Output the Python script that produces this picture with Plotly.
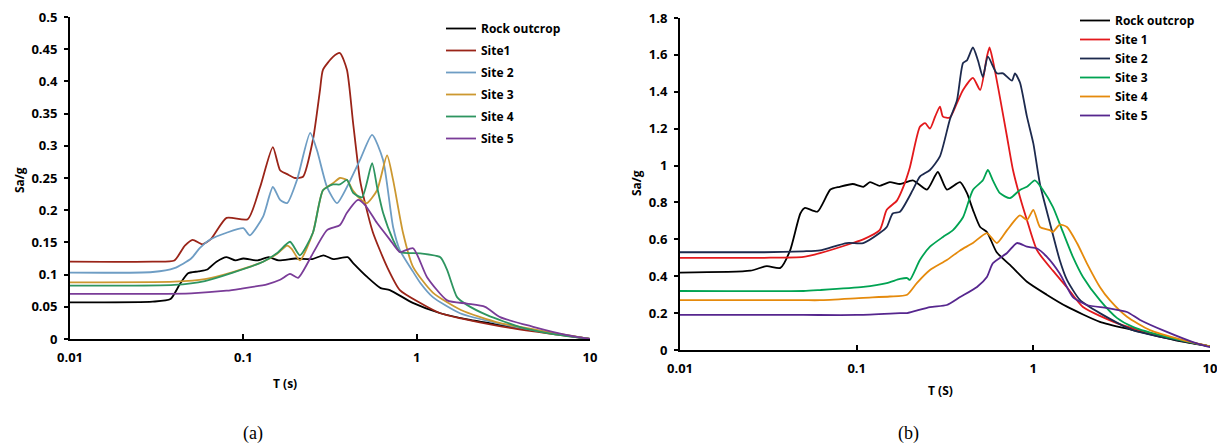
import plotly.graph_objects as go

# ---------------- Chart (a) data ----------------
a_rock_T = [0.01, 0.03, 0.038, 0.043, 0.048, 0.055, 0.062, 0.07, 0.08, 0.09, 0.1, 0.12, 0.14, 0.16, 0.2, 0.25, 0.29, 0.33, 0.4, 0.43, 0.52, 0.62, 0.7, 0.95, 1.37, 2.0, 3.0, 6.0, 10]
a_rock_Sa = [0.057, 0.058, 0.062, 0.085, 0.102, 0.105, 0.108, 0.12, 0.127, 0.122, 0.125, 0.122, 0.127, 0.122, 0.125, 0.124, 0.13, 0.124, 0.127, 0.118, 0.096, 0.079, 0.076, 0.056, 0.04, 0.03, 0.022, 0.009, 0.0]

a_site1_T = [0.01, 0.03, 0.04, 0.046, 0.051, 0.058, 0.065, 0.08, 0.106, 0.125, 0.148, 0.163, 0.179, 0.199, 0.221, 0.252, 0.277, 0.288, 0.329, 0.361, 0.396, 0.43, 0.471, 0.504, 0.56, 0.675, 0.8, 1.05, 1.37, 1.8, 3.0, 6.0, 10]
a_site1_Sa = [0.12, 0.12, 0.122, 0.145, 0.154, 0.147, 0.155, 0.188, 0.186, 0.236, 0.298, 0.262, 0.256, 0.25, 0.252, 0.309, 0.387, 0.418, 0.438, 0.444, 0.418, 0.335, 0.247, 0.211, 0.165, 0.112, 0.076, 0.056, 0.04, 0.032, 0.02, 0.008, 0.0]

a_site2_T = [0.01, 0.03, 0.04, 0.05, 0.056, 0.064, 0.08, 0.1, 0.109, 0.13, 0.148, 0.163, 0.179, 0.204, 0.243, 0.266, 0.304, 0.347, 0.396, 0.471, 0.553, 0.64, 0.731, 0.8, 0.95, 1.05, 1.24, 1.78, 3.0, 6.0, 10]
a_site2_Sa = [0.103, 0.104, 0.11, 0.125, 0.141, 0.154, 0.165, 0.172, 0.161, 0.19, 0.236, 0.216, 0.211, 0.247, 0.32, 0.293, 0.236, 0.211, 0.236, 0.278, 0.317, 0.278, 0.174, 0.138, 0.105, 0.087, 0.065, 0.04, 0.024, 0.009, 0.0]

a_site3_T = [0.01, 0.04, 0.06, 0.087, 0.13, 0.156, 0.179, 0.19, 0.212, 0.252, 0.288, 0.329, 0.361, 0.396, 0.43, 0.484, 0.517, 0.591, 0.675, 0.731, 0.834, 0.953, 1.24, 1.8, 3.0, 6.0, 10]
a_site3_Sa = [0.088, 0.089, 0.093, 0.104, 0.12, 0.132, 0.145, 0.14, 0.122, 0.165, 0.231, 0.242, 0.25, 0.247, 0.23, 0.215, 0.211, 0.231, 0.285, 0.247, 0.165, 0.112, 0.072, 0.045, 0.025, 0.01, 0.0]

a_site4_T = [0.01, 0.04, 0.06, 0.087, 0.13, 0.156, 0.186, 0.212, 0.252, 0.288, 0.329, 0.361, 0.396, 0.43, 0.484, 0.553, 0.591, 0.64, 0.731, 0.80, 1.05, 1.37, 1.5, 1.71, 1.95, 2.55, 4.0, 6.0, 10]
a_site4_Sa = [0.083, 0.084, 0.09, 0.103, 0.12, 0.133, 0.151, 0.13, 0.165, 0.231, 0.24, 0.24, 0.247, 0.227, 0.22, 0.273, 0.236, 0.196, 0.154, 0.135, 0.133, 0.127, 0.107, 0.065, 0.053, 0.037, 0.018, 0.008, 0.0]

a_site5_T = [0.01, 0.05, 0.08, 0.096, 0.137, 0.163, 0.186, 0.207, 0.252, 0.304, 0.361, 0.396, 0.459, 0.504, 0.591, 0.702, 0.8, 0.953, 1.148, 1.5, 1.95, 2.48, 3.03, 4.7, 7.4, 10]
a_site5_Sa = [0.07, 0.071, 0.075, 0.078, 0.085, 0.092, 0.101, 0.095, 0.133, 0.169, 0.177, 0.196, 0.216, 0.208, 0.18, 0.154, 0.135, 0.141, 0.096, 0.06, 0.055, 0.05, 0.034, 0.019, 0.006, 0.0]

# ---------------- Chart (b) data ----------------
b_rock_T = [0.01, 0.025, 0.031, 0.037, 0.042, 0.048, 0.051, 0.06, 0.071, 0.08, 0.095, 0.109, 0.119, 0.135, 0.154, 0.176, 0.208, 0.25, 0.288, 0.324, 0.385, 0.421, 0.455, 0.5, 0.546, 0.62, 0.74, 0.92, 1.19, 1.55, 2.38, 3.66, 7.0, 10]
b_rock_Sa = [0.42, 0.43, 0.455, 0.445, 0.54, 0.74, 0.77, 0.75, 0.87, 0.885, 0.9, 0.885, 0.91, 0.89, 0.91, 0.9, 0.92, 0.87, 0.965, 0.87, 0.91, 0.85, 0.76, 0.667, 0.64, 0.53, 0.46, 0.37, 0.3, 0.235, 0.153, 0.108, 0.045, 0.02]

b_site1_T = [0.01, 0.03, 0.05, 0.062, 0.095, 0.109, 0.135, 0.148, 0.169, 0.183, 0.2, 0.228, 0.244, 0.26, 0.278, 0.296, 0.308, 0.337, 0.37, 0.4, 0.455, 0.5, 0.546, 0.565, 0.59, 0.647, 0.71, 0.767, 0.84, 0.92, 1.05, 1.29, 1.55, 1.91, 2.97, 4.57, 10]
b_site1_Sa = [0.5, 0.5, 0.505, 0.525, 0.58, 0.6, 0.65, 0.76, 0.81, 0.88, 0.99, 1.21, 1.23, 1.2, 1.265, 1.32, 1.265, 1.26, 1.34, 1.41, 1.475, 1.41, 1.59, 1.64, 1.57, 1.37, 1.155, 0.976, 0.83, 0.705, 0.54, 0.43, 0.34, 0.233, 0.146, 0.092, 0.02]

b_site2_T = [0.01, 0.03, 0.05, 0.062, 0.088, 0.109, 0.135, 0.148, 0.16, 0.176, 0.208, 0.228, 0.26, 0.296, 0.337, 0.37, 0.4, 0.421, 0.455, 0.486, 0.518, 0.553, 0.622, 0.673, 0.757, 0.787, 0.84, 0.92, 1.0, 1.09, 1.24, 1.41, 1.55, 1.84, 2.38, 3.66, 10]
b_site2_Sa = [0.53, 0.53, 0.535, 0.54, 0.58, 0.58, 0.634, 0.667, 0.74, 0.75, 0.868, 0.94, 0.976, 1.05, 1.25, 1.356, 1.556, 1.57, 1.64, 1.57, 1.48, 1.59, 1.5, 1.5, 1.46, 1.5, 1.45, 1.265, 1.12, 0.9, 0.69, 0.488, 0.38, 0.27, 0.2, 0.108, 0.02]

b_site3_T = [0.01, 0.05, 0.062, 0.109, 0.148, 0.176, 0.193, 0.2, 0.228, 0.26, 0.308, 0.351, 0.4, 0.455, 0.518, 0.553, 0.59, 0.647, 0.737, 0.84, 0.92, 1.02, 1.133, 1.29, 1.47, 1.675, 1.91, 2.38, 2.97, 3.66, 5.7, 10]
b_site3_Sa = [0.32, 0.32, 0.325, 0.342, 0.363, 0.385, 0.39, 0.38, 0.488, 0.56, 0.613, 0.65, 0.72, 0.868, 0.92, 0.976, 0.92, 0.85, 0.823, 0.868, 0.885, 0.92, 0.868, 0.776, 0.64, 0.505, 0.396, 0.27, 0.174, 0.125, 0.07, 0.02]

b_site4_T = [0.01, 0.05, 0.062, 0.109, 0.154, 0.193, 0.219, 0.26, 0.324, 0.385, 0.455, 0.546, 0.622, 0.71, 0.84, 0.92, 1.0, 1.09, 1.24, 1.29, 1.41, 1.55, 1.766, 2.01, 2.38, 2.71, 3.39, 4.57, 7.03, 10]
b_site4_Sa = [0.27, 0.27, 0.27, 0.283, 0.29, 0.3, 0.363, 0.434, 0.488, 0.54, 0.58, 0.634, 0.58, 0.65, 0.73, 0.705, 0.76, 0.667, 0.65, 0.64, 0.68, 0.667, 0.58, 0.47, 0.342, 0.27, 0.18, 0.108, 0.054, 0.02]

b_site5_T = [0.01, 0.05, 0.1, 0.176, 0.193, 0.26, 0.324, 0.385, 0.48, 0.546, 0.59, 0.71, 0.807, 0.92, 1.05, 1.194, 1.41, 1.675, 2.01, 2.61, 3.39, 4.02, 5.7, 8.0, 10]
b_site5_Sa = [0.19, 0.19, 0.19, 0.2, 0.2, 0.233, 0.244, 0.287, 0.342, 0.396, 0.47, 0.526, 0.58, 0.56, 0.55, 0.505, 0.415, 0.287, 0.244, 0.228, 0.206, 0.163, 0.098, 0.043, 0.015]

# ---------------- names, colours, ticks ----------------
a_names = ["Rock outcrop", "Site1", "Site 2", "Site 3", "Site 4", "Site 5"]
b_names = ["Rock outcrop", "Site 1", "Site 2", "Site 3", "Site 4", "Site 5"]
a_colors = ["#000000", "#9A2418", "#6E9DC4", "#CC9830", "#2E9560", "#7A3C98"]
b_colors = ["#000000", "#E3191C", "#1D2A4E", "#00A352", "#E58A0C", "#56268E"]

x_tickvals = [0.01, 0.1, 1, 10]
x_ticktext = ["0.01", "0.1", "1", "10"]
a_ytickvals = [0, 0.05, 0.1, 0.15, 0.2, 0.25, 0.3, 0.35, 0.4, 0.45, 0.5]
a_yticktext = ["0", "0.05", "0.1", "0.15", "0.2", "0.25", "0.3", "0.35", "0.4", "0.45", "0.5"]
b_ytickvals = [0, 0.2, 0.4, 0.6, 0.8, 1.0, 1.2, 1.4, 1.6, 1.8]
b_yticktext = ["0", "0.2", "0.4", "0.6", "0.8", "1", "1.2", "1.4", "1.6", "1.8"]

a_series = [(a_rock_T, a_rock_Sa), (a_site1_T, a_site1_Sa), (a_site2_T, a_site2_Sa),
            (a_site3_T, a_site3_Sa), (a_site4_T, a_site4_Sa), (a_site5_T, a_site5_Sa)]
b_series = [(b_rock_T, b_rock_Sa), (b_site1_T, b_site1_Sa), (b_site2_T, b_site2_Sa),
            (b_site3_T, b_site3_Sa), (b_site4_T, b_site4_Sa), (b_site5_T, b_site5_Sa)]

# page has an 8px body margin: size the figure to fill the rest of the window
OFF = 8
W, H = 1225 - OFF, 448 - OFF
FONT = "Open Sans"

def fx(p):  # page pixel x -> paper fraction
    return (p - OFF) / W

def fy(p):  # page pixel y -> paper fraction
    return 1 - (p - OFF) / H

fig = go.Figure()
for i, ((t, s), name, col) in enumerate(zip(a_series, a_names, a_colors)):
    fig.add_trace(go.Scatter(x=t, y=s, name=name, mode="lines",
                             line=dict(color=col, width=1.8, shape="spline", smoothing=0.6),
                             xaxis="x", yaxis="y", legend="legend", legendgroup="a%d" % i))
for i, ((t, s), name, col) in enumerate(zip(b_series, b_names, b_colors)):
    fig.add_trace(go.Scatter(x=t, y=s, name=name, mode="lines",
                             line=dict(color=col, width=1.8, shape="spline", smoothing=0.6),
                             xaxis="x2", yaxis="y2", legend="legend2", legendgroup="b%d" % i))

tickfont = dict(family=FONT, size=13, color="black", weight="bold")

def xax(domain, anchor):
    return dict(type="log", range=[-2, 1], domain=domain, anchor=anchor,
                tickvals=x_tickvals, ticktext=x_ticktext, ticks="inside", ticklen=5,
                tickcolor="black", tickwidth=1.5, showline=True, linecolor="black",
                linewidth=2, showgrid=False, zeroline=False, tickfont=tickfont,
                ticklabelstandoff=5, automargin=False, ticklabeloverflow="allow")

def yax(domain, anchor, rng, vals, text):
    return dict(range=rng, domain=domain, anchor=anchor, tickvals=vals, ticktext=text,
                ticks="outside", ticklen=4, tickcolor="black", tickwidth=1.5,
                showline=True, linecolor="black", linewidth=2, showgrid=False,
                zeroline=False, tickfont=tickfont, ticklabelstandoff=4, automargin=False,
                ticklabeloverflow="allow")

fig.update_layout(
    width=W, height=H, margin=dict(l=0, r=0, t=0, b=0, autoexpand=False),
    paper_bgcolor="white", plot_bgcolor="white",
    xaxis=xax([fx(70), fx(590)], "y"),
    yaxis=yax([fy(339), fy(17)], "x", [0, 0.5], a_ytickvals, a_yticktext),
    xaxis2=xax([fx(680), fx(1210)], "y2"),
    yaxis2=yax([fy(350), fy(18)], "x2", [0, 1.8], b_ytickvals, b_yticktext),
    legend=dict(x=fx(441), y=fy(14), xanchor="left", yanchor="top",
                font=dict(family=FONT, size=12, color="black", weight="bold"),
                bgcolor="rgba(0,0,0,0)", traceorder="grouped", tracegroupgap=3,
                itemwidth=30),
    legend2=dict(x=fx(1075), y=fy(6), xanchor="left", yanchor="top",
                 font=dict(family=FONT, size=12, color="black", weight="bold"),
                 bgcolor="rgba(0,0,0,0)", traceorder="grouped", tracegroupgap=0,
                 itemwidth=30),
    showlegend=True,
)

ann_font = dict(family=FONT, size=12, color="black", weight="bold")
cap_font = dict(family="Liberation Serif", size=18, color="black")
annotations = [
    dict(text="Sa/g", x=fx(20), y=fy(180), textangle=-90, font=ann_font),
    dict(text="T (s)", x=fx(285), y=fy(383), font=ann_font),
    dict(text="Sa/g", x=fx(636), y=fy(183), textangle=-90, font=ann_font),
    dict(text="T (S)", x=fx(940), y=fy(390), font=ann_font),
    dict(text="(a)", x=fx(253), y=fy(433), font=cap_font),
    dict(text="(b)", x=fx(908), y=fy(433), font=cap_font),
]
for a in annotations:
    a.update(xref="paper", yref="paper", showarrow=False, xanchor="center", yanchor="middle")
fig.update_layout(annotations=annotations)

fig.write_html("out.html")
